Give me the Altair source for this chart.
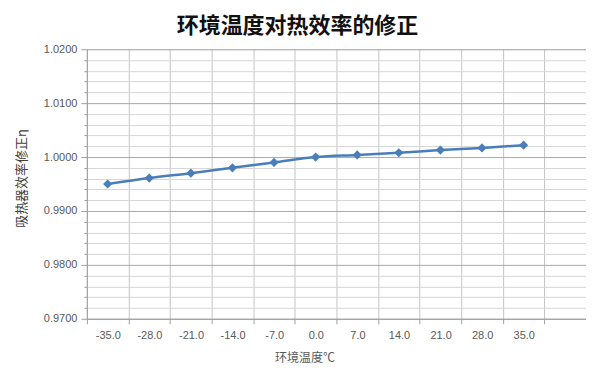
import altair as alt
import pandas as pd

temps = [-35, -28, -21, -14, -7, 0, 7, 14, 21, 28, 35]
eff = [0.9950, 0.9961, 0.9970, 0.9980, 0.9990, 1.0000, 1.0004, 1.0008, 1.0013, 1.0017, 1.0022]
x_labels = ["-35.0", "-28.0", "-21.0", "-14.0", "-7.0", "0.0", "7.0", "14.0", "21.0", "28.0", "35.0"]
x_bounds = [-38.5, -31.5, -24.5, -17.5, -10.5, -3.5, 3.5, 10.5, 17.5, 24.5, 31.5, 38.5, 45.5]
y_ticks = [0.970, 0.972, 0.974, 0.976, 0.978, 0.980, 0.982, 0.984, 0.986, 0.988,
           0.990, 0.992, 0.994, 0.996, 0.998, 1.000, 1.002, 1.004, 1.006, 1.008,
           1.010, 1.012, 1.014, 1.016, 1.018, 1.020]

df = pd.DataFrame({"t": temps, "e": eff})

lab_arr = "[" + ",".join("'%s'" % s for s in x_labels) + "]"
x_label_expr = "%s[round((datum.value - (%s)) / 7)] || ''" % (lab_arr, x_bounds[0])
major_test = "abs(datum.value*100 - round(datum.value*100)) < 0.0001"

FONT = "Noto Sans CJK SC"
NUMFONT = "Liberation Sans"
BLUE = "#4a7ebb"

x = alt.X("t:Q", scale=alt.Scale(domain=[x_bounds[0], x_bounds[-1]], nice=False, zero=False),
          axis=alt.Axis(values=x_bounds, labelExpr=x_label_expr, labelOffset=21,
                        labelFlush=False, labelOverlap=False, labelBound=False,
                        grid=True, gridColor="#c4c4c4", gridWidth=1,
                        domainColor="#a0a0a0", tickColor="#a0a0a0", tickSize=5,
                        labelFont=NUMFONT, labelFontSize=11, labelColor="#595959",
                        labelPadding=6, title="环境温度℃", titleFont=FONT,
                        titleFontSize=12, titleFontWeight="normal", titleColor="#595959",
                        titleX=218, titleY=34))
y = alt.Y("e:Q", scale=alt.Scale(domain=[0.97, 1.02], nice=False, zero=False),
          axis=alt.Axis(values=y_ticks,
                        labelExpr="(%s) ? format(datum.value, '.4f') : ''" % major_test,
                        grid=True,
                        gridColor={"condition": {"test": major_test, "value": "#a8a8a8"}, "value": "#d6d6d6"},
                        domainColor="#a0a0a0", tickColor="#a0a0a0",
                        tickSize={"condition": {"test": major_test, "value": 6}, "value": 3},
                        labelFont=NUMFONT, labelFontSize=11, labelColor="#595959",
                        labelPadding=4,
                        title="吸热器效率修正η", titleFont=FONT, titleFontSize=13,
                        titleFontWeight="normal", titleColor="#404040",
                        titleAngle=-90, titleBaseline="middle", titleAlign="center",
                        titleX=-65, titleY=129))

line = alt.Chart(df).mark_line(color=BLUE, strokeWidth=2.5, interpolate="monotone").encode(x=x, y=y)
pts = alt.Chart(df).mark_point(shape="diamond", filled=True, size=85, color=BLUE, opacity=1).encode(x=x, y=y)

chart = (line + pts).properties(
    width=500, height=270,
    autosize=alt.AutoSizeParams(type="none"),
    padding={"left": 79, "top": 41, "right": 0, "bottom": 48},
    title=alt.TitleParams("环境温度对热效率的修正", font=FONT, fontSize=22, fontWeight="bold",
                          color="#111111", anchor="middle", dx=-39, offset=5),
).configure_view(stroke="#a0a0a0").configure(background="white")

chart.save("out.html", embed_options={"renderer": "svg", "actions": False})
